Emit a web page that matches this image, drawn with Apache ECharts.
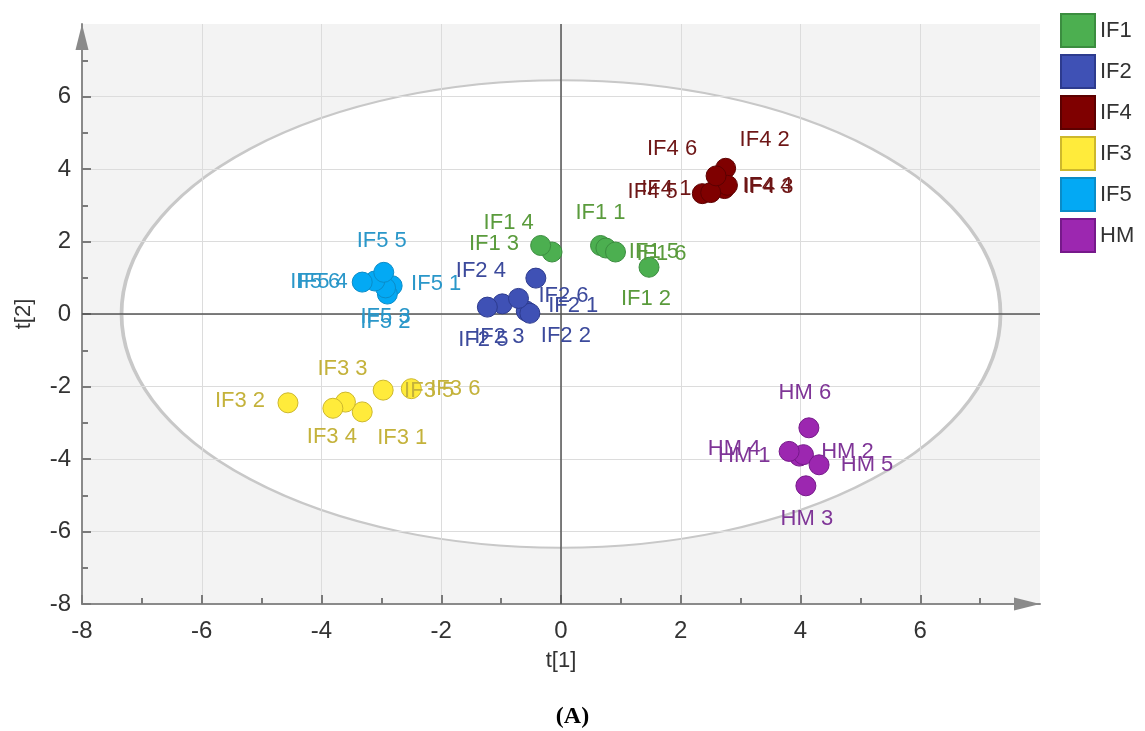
<!DOCTYPE html>
<html>
<head>
<meta charset="utf-8">
<title>PCA score plot t[1] / t[2]</title>
<script src="https://cdn.jsdelivr.net/npm/echarts@6/dist/echarts.min.js"></script>
<style>
  html, body { margin: 0; padding: 0; background: #ffffff; }
  #chart { width: 1145px; height: 731px; }
</style>
</head>
<body>
<div id="chart"></div>
<script>
// Score values [t1, t2] per sample; index i is replicate i+1.
const IF1 = [[0.66, 1.89], [1.47, 1.29], [-0.15, 1.71], [-0.34, 1.89], [0.75, 1.82], [0.91, 1.71]];
const IF2 = [[-0.58, 0.08], [-0.52, 0.02], [-0.98, 0.28], [-0.42, 0.99], [-1.23, 0.19], [-0.71, 0.43]];
const IF4 = [[2.36, 3.32], [2.75, 4.02], [2.73, 3.46], [2.78, 3.55], [2.50, 3.35], [2.59, 3.81]];
const IF3 = [[-3.32, -2.70], [-4.56, -2.45], [-3.60, -2.43], [-3.81, -2.60], [-2.97, -2.10], [-2.50, -2.06]];
const IF5 = [[-2.82, 0.78], [-2.90, 0.55], [-2.93, 0.72], [-3.11, 0.91], [-2.96, 1.15], [-3.32, 0.88]];
const HM  = [[3.98, -3.92], [4.05, -3.88], [4.09, -4.74], [3.81, -3.79], [4.31, -4.16], [4.14, -3.14]];

const groupNames = ['IF1', 'IF2', 'IF4', 'IF3', 'IF5', 'HM'];
const axisRange = [-8, 8];
const tickValues = [-8, -6, -4, -2, 0, 2, 4, 6];
// Hotelling T2 ellipse semi-axes (t1, t2)
const ellipseAxes = [7.34, 6.45];

// Label placement (pixel offsets from each marker centre)
const labelOffsets = {
  IF1: [[0, -33], [-3, 32], [-58, -8], [-32, -23], [48, 4], [46, 2]],
  IF2: [[47, -5], [36, 23], [-3, 33], [-55, -7], [-4, 33], [45, -2]],
  IF4: [[-36, -5], [39, -28], [44, -2], [40, 1], [-58, -1], [-44, -27]],
  IF3: [[40, 26], [-48, -2], [-3, -33], [-1, 29], [46, 1], [44, 0]],
  IF5: [[44, -2], [-2, 28], [0, 29], [-52, 1], [-2, -31], [-47, 0]],
  HM:  [[-55, 0], [44, -3], [1, 33], [-55, -2], [48, 0], [-4, -35]]
};

const palette = {
  IF1: { fill: '#4caf50', border: '#3b8d3f', text: '#5a9b3c' },
  IF2: { fill: '#3f51b5', border: '#2d3b8e', text: '#3c4a9c' },
  IF4: { fill: '#7f0000', border: '#5c0000', text: '#6e1616' },
  IF3: { fill: '#ffeb3b', border: '#cdb82c', text: '#c4b23b' },
  IF5: { fill: '#03a9f4', border: '#0a8cc8', text: '#2a97c9' },
  HM:  { fill: '#9c27b0', border: '#76198a', text: '#7f3597' }
};

const groups = { IF1, IF2, IF4, IF3, IF5, HM };

const labelFont = 'Liberation Sans';

function scatterSeries(name) {
  const c = palette[name];
  return {
    name: name,
    type: 'scatter',
    z: 10,
    symbol: 'circle',
    symbolSize: 20,
    itemStyle: { color: c.fill, borderColor: c.border, borderWidth: 1, opacity: 1 },
    label: {
      show: true,
      position: 'inside',
      color: c.text,
      fontFamily: labelFont,
      fontSize: 22,
      formatter: p => p.name
    },
    emphasis: { disabled: true },
    data: groups[name].map((v, i) => ({
      name: name + ' ' + (i + 1),
      value: v,
      label: { offset: labelOffsets[name][i] }
    }))
  };
}

// first split line sits under the axis line itself
const splitColors = tickValues.map((t, i) => (i === 0 ? 'rgba(0,0,0,0)' : '#dcdcdc'));

function axisCommon() {
  return {
    type: 'value',
    min: axisRange[0],
    max: axisRange[1],
    interval: 2,
    nameLocation: 'middle',
    nameTextStyle: { fontFamily: labelFont, fontSize: 22, color: '#333' },
    z: 2,
    axisLine: {
      show: true,
      onZero: false,
      symbol: ['none', 'triangle'],
      symbolSize: [13, 26],
      symbolOffset: [0, -13],
      lineStyle: { color: '#8a8a8a', width: 2 }
    },
    axisTick: {
      show: true, inside: true, length: 9,
      customValues: tickValues,
      lineStyle: { color: '#7a7a7a', width: 2 }
    },
    minorTick: { show: true, splitNumber: 2, length: 6, lineStyle: { color: '#7a7a7a', width: 2 } },
    splitLine: { show: true, lineStyle: { color: splitColors, width: 1 } },
    minorSplitLine: { show: false },
    axisLabel: {
      fontFamily: labelFont,
      fontSize: 24,
      color: '#333',
      customValues: tickValues
    }
  };
}

const xAxis = Object.assign(axisCommon(), { name: 't[1]', nameGap: 46 });
xAxis.axisLabel.margin = 15;
const yAxis = Object.assign(axisCommon(), { name: 't[2]', nameGap: 47 });
yAxis.axisLabel.margin = 11;

const option = {
  animation: false,
  backgroundColor: '#ffffff',
  grid: {
    show: true,
    left: 82, top: 24, right: 105, bottom: 127,
    backgroundColor: '#f3f3f3',
    borderWidth: 0,
    containLabel: false
  },
  legend: {
    data: groupNames,
    orient: 'vertical',
    left: 1055,
    top: 8,
    itemWidth: 34,
    itemHeight: 33,
    itemGap: 6,
    icon: 'rect',
    textStyle: { fontFamily: '"Liberation Sans Narrow", "Liberation Sans"', fontSize: 22, color: '#333' },
    selectedMode: false
  },
  xAxis: xAxis,
  yAxis: yAxis,
  graphic: [{
    type: 'text',
    left: 'center',
    top: 705,
    style: { text: '(A)', font: 'bold 24px "Liberation Serif"', fill: '#000' }
  }],
  series: [
    {
      type: 'custom',
      name: 'T2 ellipse',
      z: 1,
      silent: true,
      data: [[0, 0, ellipseAxes[0], ellipseAxes[1]]],
      renderItem: function (params, api) {
        const c = api.coord([api.value(0), api.value(1)]);
        const s = api.size([api.value(2), api.value(3)]);
        return {
          type: 'circle',
          x: c[0], y: c[1],
          scaleX: s[0] / s[1],
          shape: { cx: 0, cy: 0, r: s[1] },
          style: { fill: '#ffffff', stroke: '#c8c8c8', lineWidth: 2, strokeNoScale: true }
        };
      },
      markLine: {
        silent: true,
        symbol: ['none', 'none'],
        label: { show: false },
        z: 5,
        lineStyle: { color: '#555555', width: 1.5, type: 'solid' },
        data: [{ xAxis: 0 }, { yAxis: 0 }]
      }
    }
  ].concat(groupNames.map(scatterSeries))
};

const chart = echarts.init(document.getElementById('chart'), null, { renderer: 'canvas' });
chart.setOption(option);
</script>
</body>
</html>
